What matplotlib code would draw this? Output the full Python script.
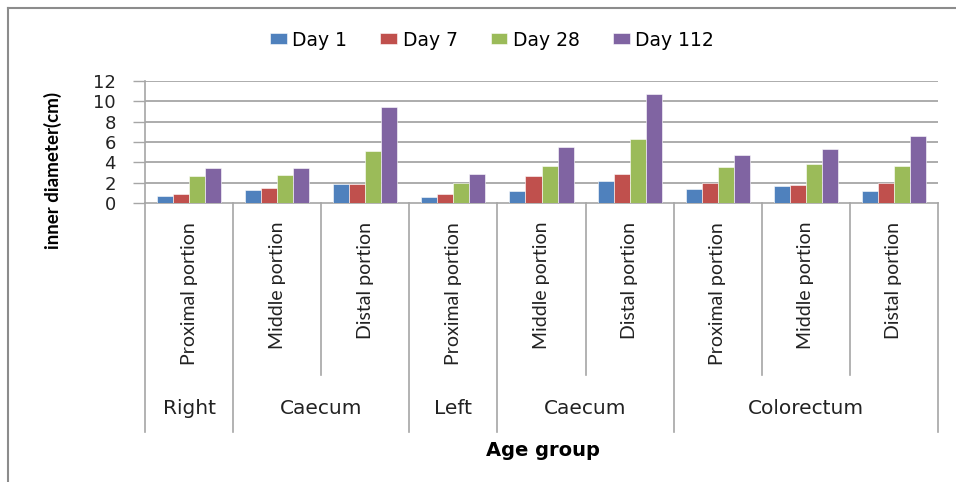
import matplotlib
matplotlib.use("Agg")
import matplotlib.pyplot as plt
import matplotlib.transforms as mtransforms
from matplotlib.lines import Line2D
import numpy as np

plt.rcParams['font.family'] = ['Lato', 'DejaVu Sans']

portions = ["Proximal portion", "Middle portion", "Distal portion",
            "Proximal portion", "Middle portion", "Distal portion",
            "Proximal portion", "Middle portion", "Distal portion"]
groups = ["Right", "Caecum", "Left", "Caecum", "Colorectum"]
group_bounds = [0, 1, 3, 4, 6, 9]  # category boundaries of each group label
series = ["Day 1", "Day 7", "Day 28", "Day 112"]

day1 = [0.66, 1.25, 1.84, 0.56, 1.15, 2.14, 1.35, 1.65, 1.15]
day7 = [0.93, 1.45, 1.84, 0.86, 2.63, 2.83, 1.97, 1.81, 2.01]
day28 = [2.63, 2.80, 5.07, 1.97, 3.62, 6.25, 3.52, 3.79, 3.62]
day112 = [3.49, 3.49, 9.41, 2.90, 5.46, 10.69, 4.77, 5.27, 6.55]

colors = ["#4F81BD", "#C0504D", "#9BBB59", "#8064A2"]
grid_col = "#a6a6a6"
wide = ['DejaVu Sans']  # horizontal text in the reference looks stretched

fig = plt.figure(figsize=(9.56, 4.82), dpi=100)
ax = fig.add_axes([145/956, 1 - 203/482, (938 - 145)/956, (203 - 81)/482])

x = np.arange(len(portions))
width = 0.182
for i, (vals, lab) in enumerate(zip([day1, day7, day28, day112], series)):
    ax.bar(x + (i - 1.5) * width, vals, width, color=colors[i], label=lab,
           edgecolor='white', linewidth=0.4, zorder=3)

ax.set_xlim(-0.5, len(portions) - 0.5)
ax.set_ylim(0, 12)
ax.set_yticks(range(0, 13, 2))
ax.tick_params(axis='y', labelsize=13, length=9, color=grid_col, width=1, pad=12)
for t in ax.get_yticklabels():
    t.set_family(wide)
    t.set_color('#222222')
ax.set_xticks([])
for yy in range(2, 13, 2):
    ax.axhline(yy, color=grid_col, lw=1.3, zorder=0)
for s in ['top', 'right']:
    ax.spines[s].set_visible(False)
for s in ['left', 'bottom']:
    ax.spines[s].set_color(grid_col)
    ax.spines[s].set_linewidth(1.2)

# multi-level category axis
tr = mtransforms.blended_transform_factory(ax.transData, fig.transFigure)
y_axis = 1 - 203/482
y_short = 1 - 375/482
y_long = 1 - 432/482
for b in range(len(portions) + 1):
    yb = y_long if b in group_bounds else y_short
    ax.add_line(Line2D([b - 0.5, b - 0.5], [y_axis, yb], transform=tr,
                       color=grid_col, lw=1.2, clip_on=False))
for xi, lab in zip(x, portions):
    ax.text(xi, 1 - 222/482, lab, transform=tr, rotation=90, ha='center',
            va='top', fontsize=14, color='#222222')
for k, lab in enumerate(groups):
    c = (group_bounds[k] + group_bounds[k + 1] - 1) / 2
    ax.text(c, 1 - 408/482, lab, transform=tr, ha='center', va='center',
            fontsize=14.5, family=wide, color='#222222')

ax.set_ylabel('inner diameter(cm)', fontsize=13.5, fontweight='bold')
ax.yaxis.set_label_coords(62/956, 1 - 170/482, transform=fig.transFigure)
fig.text(543/956, 1 - 450/482, 'Age group', ha='center', va='center',
         fontsize=14, fontweight='bold', family=wide)

fig.legend(loc='center', bbox_to_anchor=(492/956, 1 - 40/482), ncol=4,
           frameon=False, prop={'family': wide, 'size': 13.5},
           handlelength=0.9, handleheight=0.53,
           handletextpad=0.3, columnspacing=1.75)

# outer frame (left and top)
fig.add_artist(Line2D([7.5/956, 7.5/956], [0, 1 - 8/482], transform=fig.transFigure,
                      color='#8c8c8c', lw=1.5))
fig.add_artist(Line2D([7.5/956, 1], [1 - 8/482, 1 - 8/482], transform=fig.transFigure,
                      color='#8c8c8c', lw=1.5))

fig.savefig('out.png', dpi=100)
